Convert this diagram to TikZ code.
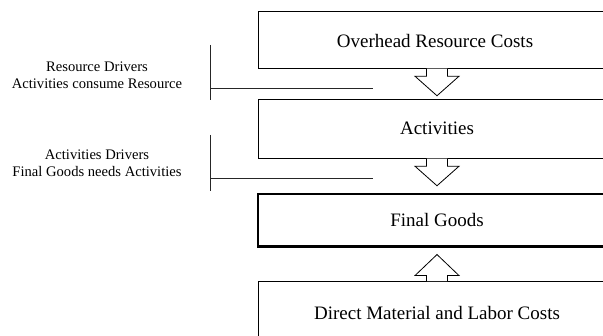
\documentclass[tikz,border=0pt]{standalone}
\usepackage{fontspec}
\setmainfont{Liberation Serif}
\usetikzlibrary{calc}
\begin{document}
\begin{tikzpicture}[x=1pt,y=-1pt,
  box/.style={draw=black, line width=0.9pt, minimum width=358pt, font=\fontsize{19}{22}\selectfont, inner sep=0pt},
  thickbox/.style={box, line width=2.8pt},
  btxt/.style={font=\fontsize{19}{22}\selectfont, inner sep=0pt},
  lbl/.style={align=center, font=\fontsize{14.6}{16.8}\selectfont, inner sep=0pt},
  blk/.style={draw=black, line width=0.8pt, fill=white, line join=miter},
  brk/.style={draw=black!85, line width=0.9pt}]
\useasboundingbox (0,0) rectangle (603,336);
\clip (0,0) rectangle (603,336);
\fill[white] (0,0) rectangle (603,336);
% boxes
\node[box, minimum height=56.6pt] (b1) at (437,40) {};
\node[btxt] at (435,41) (t1) {Overhead Resource Costs};
\node[box, minimum height=59pt] (b2) at (437,128.8) {Activities};
\node[thickbox, minimum height=52.5pt] (b3) at (437,220.2) {Final Goods};
\node[box, minimum height=58pt] (b4) at (437,310.7) {};
\node[btxt] at (437,312.7) (t4) {Direct Material and Labor Costs};
% block arrows
\draw[blk] ($(b1.south)+(-10.5,0)$) -- ++(0,7.5) -- ++(-11.5,0) -- ++(22,19.5) -- ++(22,-19.5) -- ++(-11.5,0) -- ++(0,-7.5);
\draw[blk] ($(b2.south)+(-10.5,0)$) -- ++(0,7.5) -- ++(-11.5,0) -- ++(22,19.5) -- ++(22,-19.5) -- ++(-11.5,0) -- ++(0,-7.5);
\draw[blk] ($(b4.north)+(-10.5,0)$) -- ++(0,-5.7) -- ++(-11.5,0) -- ++(22,-21) -- ++(22,21) -- ++(-11.5,0) -- ++(0,5.7);
% labels
\node[lbl] (l1) at (97,75) {Resource Drivers\\Activities consume Resource};
\node[lbl] (l2) at (97,163.5) {Activities Drivers\\Final Goods needs Activities};
% brackets
\coordinate (v1a) at (210.7,45);
\coordinate (v1b) at (210.7,100);
\coordinate (h1a) at (210.7,88);
\coordinate (h1b) at (373,88);
\coordinate (v2a) at (210.7,135);
\coordinate (v2b) at (210.7,191);
\coordinate (h2a) at (210.7,178.7);
\coordinate (h2b) at (373,178.7);
\draw[brk] (v1a) -- (v1b);
\draw[brk] (h1a) -- (h1b);
\draw[brk] (v2a) -- (v2b);
\draw[brk] (h2a) -- (h2b);
\end{tikzpicture}
\end{document}
